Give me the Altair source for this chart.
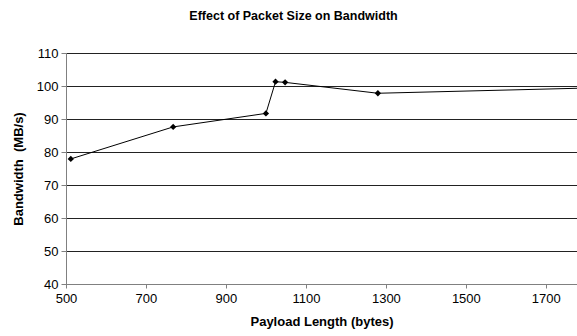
import altair as alt
import pandas as pd

payload = [512, 768, 1000, 1024, 1048, 1280, 1792]
bandwidth = [77.9, 87.6, 91.7, 101.3, 101.1, 97.8, 99.35]
x_ticks = [500, 700, 900, 1100, 1300, 1500, 1700]
y_ticks = [40, 50, 60, 70, 80, 90, 100, 110]

df = pd.DataFrame({"payload": payload, "bandwidth": bandwidth})

FONT = "Liberation Sans"

x_enc = alt.X(
    "payload:Q",
    scale=alt.Scale(domain=[500, 1778], nice=False, zero=False),
    axis=alt.Axis(
        values=x_ticks, grid=False, title="Payload Length (bytes)", format="d",
        labelFont=FONT, labelFontSize=13, labelColor="#000", labelPadding=4,
        tickSize=4, tickColor="#808080", domainColor="#808080",
        titleFont=FONT, titleFontSize=13, titleFontWeight="bold", titleColor="#000",
        titlePadding=10, labelFlush=False,
    ),
)
y_enc = alt.Y(
    "bandwidth:Q",
    scale=alt.Scale(domain=[40, 110], nice=False, zero=False),
    axis=alt.Axis(
        values=y_ticks, grid=True, gridColor="#222", gridWidth=1,
        title="Bandwidth\u00a0\u00a0(MB/s)",
        labelFont=FONT, labelFontSize=13, labelColor="#000", labelPadding=3,
        tickSize=5, tickColor="#808080", domainColor="#808080",
        titleFont=FONT, titleFontSize=13, titleFontWeight="bold", titleColor="#000",
        titlePadding=11,
    ),
)

line = alt.Chart(df).mark_line(color="#000", strokeWidth=1, clip=True).encode(x=x_enc, y=y_enc)
pts = alt.Chart(df).mark_point(shape="diamond", filled=True, color="#000", size=40, opacity=1, clip=True).encode(x=x_enc, y=y_enc)

chart = (
    alt.layer(line, pts)
    .properties(
        width=511, height=231,
        autosize=alt.AutoSizeParams(type="none"),
        padding={"left": 66, "top": 53, "right": 0, "bottom": 52},
        title=alt.TitleParams(
            "Effect of Packet Size on Bandwidth", font=FONT, fontSize=12.5,
            fontWeight="bold", color="#000", anchor="middle", dx=-28, offset=25,
        ),
    )
    .configure_view(stroke=None)
    .configure(background="white")
)

chart.save("out.html", embed_options={"renderer": "svg", "actions": False})
